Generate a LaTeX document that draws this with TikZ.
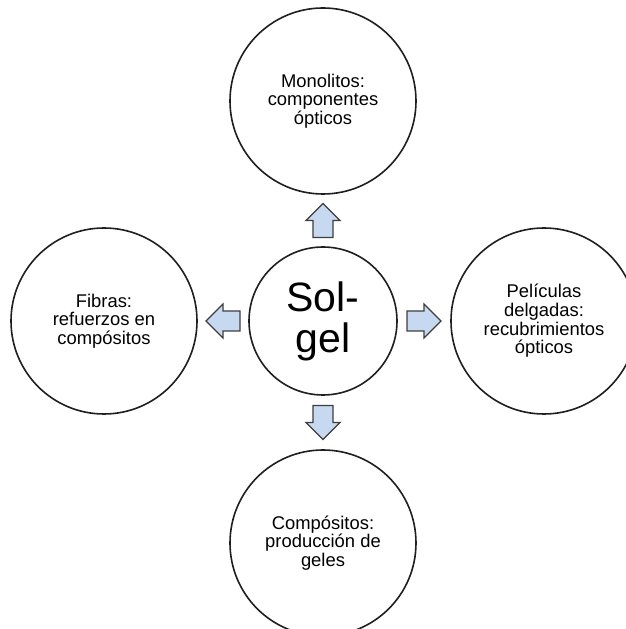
\documentclass[tikz,border=0pt]{standalone}
\usepackage{fontspec}
\setmainfont{Liberation Sans}
\usetikzlibrary{calc}

\begin{document}
\begin{tikzpicture}[x=1pt,y=1pt,
    ring/.style={circle,draw=myRing,line width=1.6pt,fill=white,inner sep=0pt,
        minimum size=186pt,align=center,font=\fontsize{18.4}{18.6}\selectfont},
    hub/.style={ring,minimum size=148pt,font=\fontsize{41}{41}\selectfont},
    arrowbox/.style={fill=myArrow,draw=myArrowEdge,line width=1.3pt,line join=miter}]
            \colorlet{myRing}{black!88}
            \definecolor{myArrow}{RGB}{199,217,240}
            \definecolor{myArrowEdge}{RGB}{62,62,62}
            \useasboundingbox (0,0) rectangle (626,629);
            \node[hub] (solgel) at (323,308) {Sol-\\gel};
            \node[ring] (monolitos) at (323,528) {Monolitos:\\componentes\\ópticos};
            \node[ring] (fibras) at (104,308) {Fibras:\\refuerzos en\\compósitos};
            \node[ring] (peliculas) at (544,308) {Películas\\delgadas:\\recubrimientos\\ópticos};
            \node[ring] (compositos) at (323,86) {Compósitos:\\producción de\\geles};
            \foreach \from/\to/\ang in {solgel.north/monolitos.south/90,solgel.west/fibras.east/180,
                solgel.east/peliculas.west/0,solgel.south/compositos.north/270}
                {   \draw[arrowbox,shift={($(\from)!0.5!(\to)$)},rotate=\ang]
                        (-17,-10) -- (0,-10) -- (0,-17) -- (17,0) -- (0,17) -- (0,10) -- (-17,10) -- cycle;
                }
        \end{tikzpicture}
\end{document}
